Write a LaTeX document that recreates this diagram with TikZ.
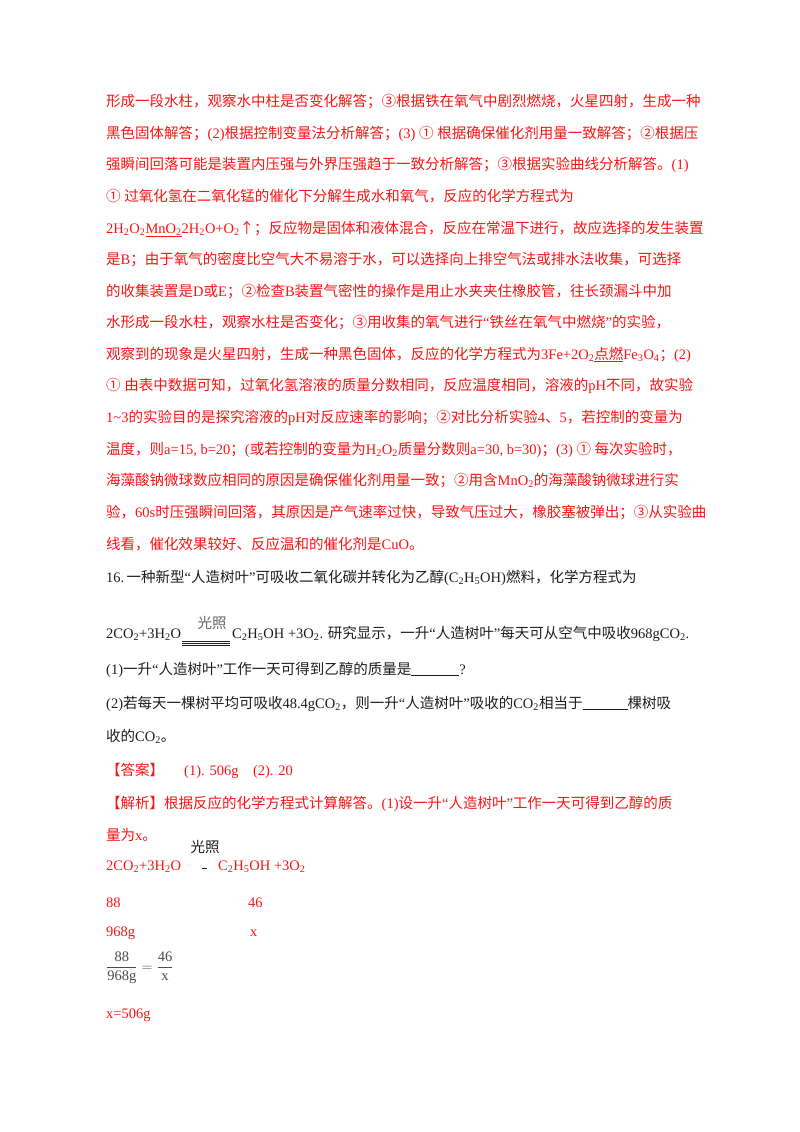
\documentclass[tikz,border=0pt]{standalone}
\usepackage{fontspec}
\setmainfont{Liberation Serif}
\newfontfamily\cjk{Noto Sans CJK SC}
\newcount\cc
\newcommand\setcls[3]{\cc=#1\relax\loop\XeTeXcharclass\cc=#3\relax\ifnum\cc<#2\advance\cc by 1\repeat}
\setcls{"4E00}{"9FFF}{1}
\setcls{"3000}{"303F}{1}
\setcls{"FF00}{"FFEF}{1}
\setcls{"2460}{"2473}{1}
\XeTeXcharclass"2191=1
\XeTeXinterchartokenstate=1
\XeTeXinterchartoks 0 1 = {\cjk}
\XeTeXinterchartoks 4095 1 = {\cjk}
\XeTeXinterchartoks 1 0 = {\rmfamily}
\XeTeXinterchartoks 1 4095 = {\rmfamily}
\newcommand\lo[1]{\textsubscript{#1}}
\definecolor{redtxt}{RGB}{250,20,20}
\definecolor{blk}{RGB}{30,30,30}
\begin{document}
\begin{tikzpicture}[x=1pt,y=-1pt,
  ln/.style={anchor=base west,inner sep=0pt,font=\fontsize{14.5}{17}\selectfont\rmfamily},
  rd/.style={ln,text=redtxt},
  bk/.style={ln,text=blk}]
\useasboundingbox[fill=white] (0,0) rectangle (800,1132);
\node[rd] (l1) at (106,106) {形成一段水柱，观察水中柱是否变化解答；③根据铁在氧气中剧烈燃烧，火星四射，生成一种};
\node[rd] (l2) at (106,138) {黑色固体解答；(2)根据控制变量法分析解答；(3) ① 根据确保催化剂用量一致解答；②根据压};
\node[rd] (l3) at (106,169) {强瞬间回落可能是装置内压强与外界压强趋于一致分析解答；③根据实验曲线分析解答。(1)};
\node[rd] (l4) at (106,201) {① 过氧化氢在二氧化锰的催化下分解生成水和氧气，反应的化学方程式为};
\node[rd] (l5) at (106,233) {2H\lo2O\lo2\underline{MnO\lo2}2H\lo2O+O\lo2↑；反应物是固体和液体混合，反应在常温下进行，故应选择的发生装置};
\node[rd] (l6) at (106,264) {是B；由于氧气的密度比空气大不易溶于水，可以选择向上排空气法或排水法收集，可选择};
\node[rd] (l7) at (106,296) {的收集装置是D或E；②检查B装置气密性的操作是用止水夹夹住橡胶管，往长颈漏斗中加};
\node[rd] (l8) at (106,327) {水形成一段水柱，观察水柱是否变化；③用收集的氧气进行“铁丝在氧气中燃烧”的实验，};
\node[rd] (l9) at (106,359) {观察到的现象是火星四射，生成一种黑色固体，反应的化学方程式为3Fe+2O\lo2\underline{点燃}Fe\lo3O\lo4；(2)};
\node[rd] (l10) at (106,390) {① 由表中数据可知，过氧化氢溶液的质量分数相同，反应温度相同，溶液的pH不同，故实验};
\node[rd] (l11) at (106,422) {1\textasciitilde3的实验目的是探究溶液的pH对反应速率的影响；②对比分析实验4、5，若控制的变量为};
\node[rd] (l12) at (106,454) {温度，则a=15, b=20；(或若控制的变量为H\lo2O\lo2质量分数则a=30, b=30)；(3) ① 每次实验时，};
\node[rd] (l13) at (106,485) {海藻酸钠微球数应相同的原因是确保催化剂用量一致；②用含MnO\lo2的海藻酸钠微球进行实};
\node[rd] (l14) at (106,517) {验，60s时压强瞬间回落，其原因是产气速率过快，导致气压过大，橡胶塞被弹出；③从实验曲};
\node[rd] (l15) at (106,549) {线看，催化效果较好、反应温和的催化剂是CuO。};
\node[bk] (q0) at (106,582) {16.\,一种新型“人造树叶”可吸收二氧化碳并转化为乙醇(C\lo2H\lo5OH)燃料，化学方程式为};
\node[bk] (e1) at (106,638) {2CO\lo2+3H\lo2O};
\node[bk] (e2) at (232,638) {C\lo2H\lo5OH +3O\lo2. 研究显示，一升“人造树叶”每天可从空气中吸收968gCO\lo2.};
\draw[blk,line width=0.5pt] ([xshift=1pt,yshift=-3pt]e1.base east) -- ([xshift=-2pt,yshift=-3pt]e2.base west)
  ([xshift=1pt,yshift=-5pt]e1.base east) -- ([xshift=-2pt,yshift=-5pt]e2.base west)
  ([xshift=1pt,yshift=-7pt]e1.base east) -- ([xshift=-2pt,yshift=-7pt]e2.base west);
\node[bk,anchor=base,text=gray!80!black] (g1) at (212,628) {光照};
\node[bk] (q1) at (106,674) {(1)一升“人造树叶”工作一天可得到乙醇的质量是\rule[-2pt]{48pt}{0.6pt}?};
\node[bk] (q2) at (106,708) {(2)若每天一棵树平均可吸收48.4gCO\lo2，则一升“人造树叶”吸收的CO\lo2相当于\rule[-2pt]{45pt}{0.6pt}棵树吸};
\node[bk] (q3) at (106,741) {收的CO\lo2。};
\node[rd] (a0) at (106,775) {【答案】\hspace{20pt}(1). 506g\quad (2). 20};
\node[rd] (a1) at (106,808) {【解析】根据反应的化学方程式计算解答。(1)设一升“人造树叶”工作一天可得到乙醇的质};
\node[rd] (a2) at (106,840) {量为x。};
\node[rd] (b1) at (106,870) {2CO\lo2+3H\lo2O};
\node[rd] (b2) at (218,870) {C\lo2H\lo5OH +3O\lo2};
\node[bk,anchor=base] (g2) at (205,852) {光照};
\draw[blk,line width=0.5pt] (202,868) -- (207,868);
\node[rd] (c1) at (106,907) {88};
\node[rd] (c2) at (248,907) {46};
\node[rd] (d1) at (106,936) {968g};
\node[rd] (d2) at (250,936) {x};
\node[ln,text=blk!80] (fr) at (106,971) {$\displaystyle\frac{\mathrm{88}}{\mathrm{968g}}=\frac{\mathrm{46}}{\mathrm{x}}$};
\node[rd] (x1) at (106,1018) {x=506g};
\end{tikzpicture}
\end{document}
